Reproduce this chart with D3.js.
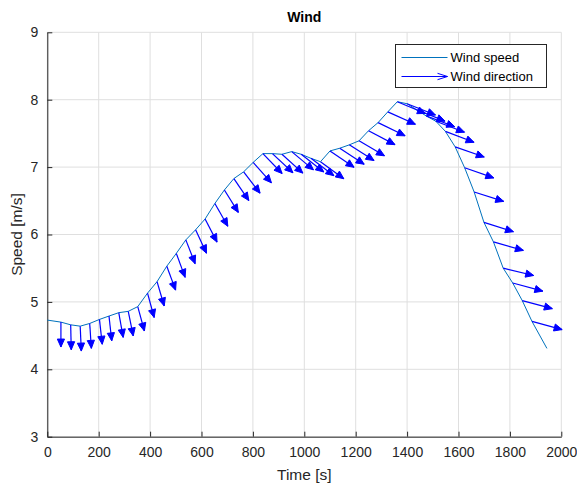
<!DOCTYPE html>
<html>
<head>
<meta charset="utf-8">
<script src="https://cdn.jsdelivr.net/npm/d3@7"></script>
<style>
    body { margin: 0; background: #fff; font-family: "Liberation Sans", Arial, sans-serif; }
</style>
</head>
<body>
<div id="chart"></div>
<script>
// time stamps [s] of the samples (arrow bases lie on the speed line)
const timeS = [0, 53, 91, 128, 165, 203, 240, 278, 315, 352, 390, 427, 465, 502, 539, 577, 614,
    652, 689, 726, 764, 801, 839, 876, 913, 951, 988, 1026, 1063, 1100, 1138, 1175, 1213, 1250,
    1287, 1325, 1362, 1400, 1437, 1474, 1512, 1549, 1587, 1624, 1661, 1699, 1736, 1774, 1811,
    1848, 1886, 1944];

// wind speed [m/s]
const speedMs = [4.73, 4.70, 4.66, 4.64, 4.68, 4.74, 4.79, 4.84, 4.86, 4.93, 5.13, 5.30, 5.53,
    5.72, 5.92, 6.07, 6.23, 6.46, 6.66, 6.83, 6.93, 7.07, 7.20, 7.20, 7.19, 7.23, 7.19, 7.13,
    7.08, 7.24, 7.28, 7.33, 7.39, 7.54, 7.66, 7.82, 7.97, 7.94, 7.85, 7.76, 7.68, 7.53, 7.30,
    6.99, 6.63, 6.18, 5.89, 5.50, 5.28, 5.02, 4.71, 4.31];

// wind direction, degrees below horizontal (null = no arrow)
const directionDeg = [null, 90, 89, 88, 87, 85, 85, 82, 81, 78, 78, 77, 74, 74, 73, 70, 68, 66,
    64, 62, 59, 55, 53, 50, 49, 47, 45, 44, 43, 41, 40, 39, 37, 34, 32, 30, 28, 27, 27, 26, 26,
    26, 24, 24, 22, 22, 20, 17, 19, 19, 19, null];

const xTicks = [0, 200, 400, 600, 800, 1000, 1200, 1400, 1600, 1800, 2000];
const yTicks = [3, 4, 5, 6, 7, 8, 9];

const width = 577;
const height = 484;
const margin = { top: 32.3, right: 15.7, bottom: 47.3, left: 47.3 };
const innerW = width - margin.left - margin.right;
const innerH = height - margin.top - margin.bottom;

// quiver scale: arrow length in data units
const arrowU = 124;   // s
const arrowV = 0.37;  // m/s

const axisColor = '#262626';
const gridColor = '#dfdfdf';
const lineColor = '#0072BD';
const arrowColor = '#0000ff';

const svg = d3.select('#chart').append('svg').attr('width', width).attr('height', height);

const x = d3.scaleLinear().domain([0, 2000]).range([margin.left, margin.left + innerW]);
const y = d3.scaleLinear().domain([3, 9]).range([margin.top + innerH, margin.top]);

// grid
svg.append('g')
    .selectAll('line')
    .data(xTicks)
    .enter()
    .append('line')
    .attr('x1', (d) => x(d)).attr('x2', (d) => x(d))
    .attr('y1', y(3)).attr('y2', y(9))
    .attr('stroke', gridColor).attr('stroke-width', 1);

svg.append('g')
    .selectAll('line')
    .data(yTicks)
    .enter()
    .append('line')
    .attr('x1', x(0)).attr('x2', x(2000))
    .attr('y1', (d) => y(d)).attr('y2', (d) => y(d))
    .attr('stroke', gridColor).attr('stroke-width', 1);

// axes (ticks point inwards, MATLAB style)
const xAxis = svg.append('g')
    .attr('transform', `translate(0, ${y(3)})`)
    .call(d3.axisBottom(x).tickValues(xTicks).tickFormat(d3.format('d'))
        .tickSizeInner(-5).tickSizeOuter(0).tickPadding(10));
const yAxis = svg.append('g')
    .attr('transform', `translate(${x(0)}, 0)`)
    .call(d3.axisLeft(y).tickValues(yTicks).tickFormat(d3.format('d'))
        .tickSizeInner(-5).tickSizeOuter(0).tickPadding(9));

[xAxis, yAxis].forEach((a) => {
    a.select('.domain').attr('stroke', axisColor);
    a.selectAll('.tick line').attr('stroke', axisColor);
    a.selectAll('.tick text')
        .attr('fill', axisColor)
        .style('font-family', '"Liberation Sans", Arial, sans-serif')
        .style('font-size', '14px');
});

// wind speed line
const pts = timeS.map((t, i) => ({ t: t, v: speedMs[i], dir: directionDeg[i] }));

svg.append('path')
    .datum(pts)
    .attr('fill', 'none')
    .attr('stroke', lineColor)
    .attr('stroke-width', 1)
    .attr('d', d3.line().x((d) => x(d.t)).y((d) => y(d.v)));

// wind direction arrows
function headPoints(x0, y0, x1, y1, len, half) {
    const a = Math.atan2(y1 - y0, x1 - x0);
    const bx = x1 - len * Math.cos(a);
    const by = y1 - len * Math.sin(a);
    const nx = -Math.sin(a) * half;
    const ny = Math.cos(a) * half;
    return [[x1, y1], [bx + nx, by + ny], [bx - nx, by - ny]];
}

const arrows = svg.append('g')
    .selectAll('.arrow')
    .data(pts.filter((d) => d.dir !== null))
    .enter()
    .append('g')
    .attr('class', 'arrow');

arrows.each(function (d) {
    const r = (d.dir * Math.PI) / 180;
    const x0 = x(d.t);
    const y0 = y(d.v);
    const x1 = x(d.t + arrowU * Math.cos(r));
    const y1 = y(d.v - arrowV * Math.sin(r));
    const g = d3.select(this);
    g.append('line')
        .attr('x1', x0).attr('y1', y0)
        .attr('x2', x1).attr('y2', y1)
        .attr('stroke', arrowColor).attr('stroke-width', 1.2);
    g.append('polygon')
        .attr('points', headPoints(x0, y0, x1, y1, 8, 3.6).map((p) => p.join(',')).join(' '))
        .attr('fill', arrowColor)
        .attr('stroke', arrowColor)
        .attr('stroke-width', 1)
        .attr('stroke-linejoin', 'miter');
});

// title and axis labels
svg.append('text')
    .attr('x', x(1000)).attr('y', 22)
    .attr('text-anchor', 'middle')
    .attr('fill', '#000')
    .style('font-size', '14px').style('font-weight', 'bold')
    .text('Wind');

svg.append('text')
    .attr('x', x(1000)).attr('y', 480)
    .attr('text-anchor', 'middle')
    .attr('fill', axisColor)
    .style('font-size', '15.5px')
    .text('Time [s]');

svg.append('text')
    .attr('transform', `translate(22, ${y(6)}) rotate(-90)`)
    .attr('text-anchor', 'middle')
    .attr('fill', axisColor)
    .style('font-size', '15.5px')
    .text('Speed [m/s]');

// legend
const lg = svg.append('g').attr('transform', 'translate(395.5, 44.5)');
lg.append('rect')
    .attr('width', 151).attr('height', 43)
    .attr('fill', '#fff').attr('stroke', axisColor).attr('stroke-width', 1);
lg.append('line')
    .attr('x1', 6).attr('x2', 52).attr('y1', 13).attr('y2', 13)
    .attr('stroke', lineColor).attr('stroke-width', 1);
lg.append('line')
    .attr('x1', 6).attr('x2', 52).attr('y1', 32).attr('y2', 32)
    .attr('stroke', arrowColor).attr('stroke-width', 1);
lg.append('polyline')
    .attr('points', '42,28.8 52,32 42,35.2')
    .attr('fill', 'none').attr('stroke', arrowColor).attr('stroke-width', 1);
lg.selectAll('.lgText')
    .data(['Wind speed', 'Wind direction'])
    .enter()
    .append('text')
    .attr('x', 55)
    .attr('y', (d, i) => 17.5 + i * 19)
    .attr('fill', '#000')
    .style('font-size', '13px')
    .text((d) => d);
</script>
</body>
</html>
